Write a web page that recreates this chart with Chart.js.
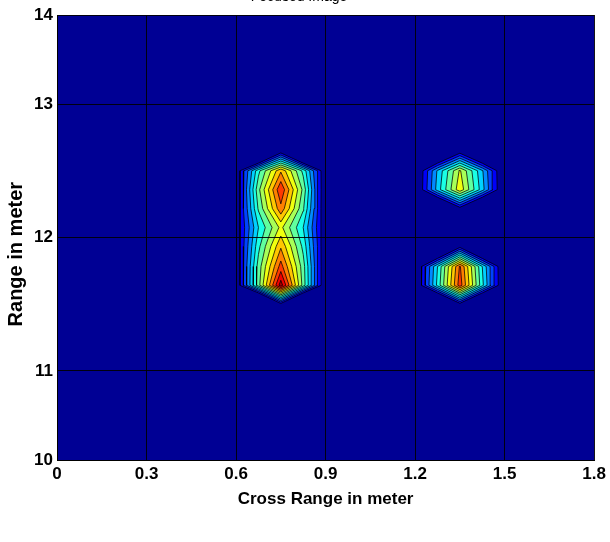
<!DOCTYPE html>
<html>
<head>
<meta charset="utf-8">
<script src="https://cdn.jsdelivr.net/npm/chart.js@4.4.0/dist/chart.umd.min.js"></script>
<style>
  html, body { margin: 0; padding: 0; background: #fff; }
</style>
</head>
<body>
<canvas id="myChart" width="610" height="542"></canvas>
<script>
'use strict';
// grid of the image (cross range columns, range rows); the targets sit on a low floor
const crossRange=[0.45,0.525,0.6,0.675,0.75,0.825,0.9,0.975,1.05,1.125,1.2,1.275,1.35,1.425,1.5,1.575,1.65];
const rangeRows=[12.94,12.77,12.60,12.43,12.26,12.09,11.92,11.74,11.57,11.40,11.23];
const intensity=[
  [0,0,0,0,0,0,0,0,0,0,0,0,0,0,0,0,0],
  [0,0,0,-0.375,0.08,-0.375,0,0,0,0,0,-0.21,0.08,-0.21,0,0,0],
  [0,0,0.049,0.45,0.74,0.45,0.034,0,0,0,0,0.34,0.62,0.34,0,0,0],
  [0,0,0.034,0.52,0.88,0.52,0.019,0,0,0,0,0.36,0.66,0.36,0,0,0],
  [0,0,0.042,0.48,0.80,0.48,0.027,0,0,0,0,-0.24,0.08,-0.24,0,0,0],
  [0,0,0.060,0.40,0.63,0.40,0.045,0,0,0,0,0,0,0,0,0,0],
  [0,0,0.049,0.45,0.74,0.45,0.034,0,0,0,0,-0.30,0.08,-0.30,0,0,0],
  [0,0,0.038,0.50,0.85,0.50,0.023,0,0,0,0,0.40,0.83,0.40,0,0,0],
  [0,0,0.036,0.51,1.00,0.51,0.021,0,0,0,0,0.42,0.86,0.42,0,0,0],
  [0,0,0,-0.465,0.08,-0.465,0,0,0,0,0,-0.33,0.08,-0.33,0,0,0],
  [0,0,0,0,0,0,0,0,0,0,0,0,0,0,0,0,0]
];
const levels=[0.12,0.19,0.26,0.33,0.40,0.47,0.54,0.61,0.68,0.75,0.82,0.89,0.96];
const xTicks=[0,0.3,0.6,0.9,1.2,1.5,1.8];
const xTickLabels=['0','0.3','0.6','0.9','1.2','1.5','1.8'];
const yTicks=[10,10.8,12,13.2,14];
const yTickLabels=['10','11','12','13','14'];

function jet(t){
  let f=v=>Math.round(255*Math.max(0,Math.min(1,v)));
  return `rgb(${f(1.5-Math.abs(4*t-3))},${f(1.5-Math.abs(4*t-2))},${f(1.5-Math.abs(4*t-1))})`;
}

// marching squares, returns closed polygons for one level
function contourLevel(c){
  let v=intensity;
  let segs=[];
  function hEdge(i,j){
    let t=(c-v[i][j])/(v[i][j+1]-v[i][j]);
    return {key:'h'+i+'_'+j,x:crossRange[j]+t*(crossRange[j+1]-crossRange[j]),y:rangeRows[i]};
  }
  function vEdge(i,j){
    let t=(c-v[i][j])/(v[i+1][j]-v[i][j]);
    return {key:'v'+i+'_'+j,x:crossRange[j],y:rangeRows[i]+t*(rangeRows[i+1]-rangeRows[i])};
  }
  for(let i=0;i<rangeRows.length-1;i++){
    for(let j=0;j<crossRange.length-1;j++){
      let tl=v[i][j]>=c, tr=v[i][j+1]>=c, br=v[i+1][j+1]>=c, bl=v[i+1][j]>=c;
      let pts=[];
      if(tl!==tr) pts.push(hEdge(i,j));
      if(tr!==br) pts.push(vEdge(i,j+1));
      if(bl!==br) pts.push(hEdge(i+1,j));
      if(tl!==bl) pts.push(vEdge(i,j));
      if(pts.length===2){
        segs.push([pts[0],pts[1]]);
      } else if(pts.length===4){
        let mid=(v[i][j]+v[i][j+1]+v[i+1][j+1]+v[i+1][j])/4;
        if((mid>=c)===tl){
          segs.push([pts[0],pts[1]],[pts[2],pts[3]]);
        } else {
          segs.push([pts[0],pts[3]],[pts[1],pts[2]]);
        }
      }
    }
  }
  let used=new Array(segs.length).fill(false);
  let polys=[];
  for(let s=0;s<segs.length;s++){
    if(used[s]) continue;
    used[s]=true;
    let poly=[segs[s][0],segs[s][1]];
    let startKey=segs[s][0].key;
    let cur=segs[s][1].key;
    let found=true;
    while(cur!==startKey && found){
      found=false;
      for(let k=0;k<segs.length;k++){
        if(used[k]) continue;
        if(segs[k][0].key===cur){ used[k]=true; poly.push(segs[k][1]); cur=segs[k][1].key; found=true; break; }
        if(segs[k][1].key===cur){ used[k]=true; poly.push(segs[k][0]); cur=segs[k][0].key; found=true; break; }
      }
    }
    polys.push(poly.map(p=>({x:p.x,y:p.y})));
  }
  return polys;
}

let datasets=[];
for(let k=0;k<levels.length;k++){
  let polys=contourLevel(levels[k]);
  for(let p=0;p<polys.length;p++){
    datasets.push({
      data:polys[p],
      showLine:true,
      fill:'shape',
      backgroundColor:jet(levels[k]),
      borderColor:'#000',
      borderWidth:0.75,
      pointRadius:0,
      order:levels.length-k
    });
  }
}

const plotBackground={
  id:'plotBackground',
  beforeDraw(chart){
    let a=chart.chartArea;
    let ctx=chart.ctx;
    ctx.save();
    ctx.fillStyle=jet(0.02);
    ctx.fillRect(a.left,a.top,a.right-a.left,a.bottom-a.top);
    ctx.restore();
  }
};

const tickFont={family:'Liberation Sans, Arial, sans-serif',size:17,weight:'bold'};

let ctx=document.getElementById('myChart').getContext('2d');
let chart=new Chart(ctx,{
  type:'scatter',
  data:{datasets:datasets},
  plugins:[plotBackground],
  options:{
    responsive:false,
    animation:false,
    events:[],
    devicePixelRatio:1,
    layout:{padding:{left:0,right:12,top:0,bottom:0}},
    plugins:{
      legend:{display:false},
      tooltip:{enabled:false},
      title:{
        display:true,
        text:'Focused Image',
        color:'#000',
        font:{family:'Liberation Sans, Arial, sans-serif',size:14,weight:'normal'},
        padding:{top:-11.7,bottom:9.9}
      }
    },
    scales:{
      x:{
        type:'linear',
        min:0,
        max:1.8,
        afterBuildTicks:function(s){ s.ticks=xTicks.map(v=>({value:v})); },
        afterFit:function(s){ s.height=82; },
        ticks:{autoSkip:false,maxRotation:0,padding:4,color:'#000',font:tickFont,
          callback:function(val,i){ return xTickLabels[i]; }},
        grid:{color:'rgba(0,0,0,0.9)',lineWidth:1,z:1,drawTicks:false},
        border:{display:true,color:'#000',width:1,z:2},
        title:{display:true,text:'Cross Range in meter',color:'#000',
          font:{family:'Liberation Sans, Arial, sans-serif',size:17,weight:'bold'},
          padding:{top:0,bottom:32}}
      },
      y:{
        type:'linear',
        min:10,
        max:14,
        afterBuildTicks:function(s){ s.ticks=yTicks.map(v=>({value:v})); },
        afterFit:function(s){ s.width=57; },
        ticks:{autoSkip:false,padding:4,color:'#000',font:tickFont,
          callback:function(val,i){ return yTickLabels[i]; }},
        grid:{color:'rgba(0,0,0,0.9)',lineWidth:1,z:1,drawTicks:false},
        border:{display:true,color:'#000',width:1,z:2},
        title:{display:true,text:'Range in meter      ',color:'#000',
          font:{family:'Liberation Sans, Arial, sans-serif',size:20,weight:'bold'},
          padding:{top:4,bottom:0}}
      }
    }
  }
});
</script>
</body>
</html>
